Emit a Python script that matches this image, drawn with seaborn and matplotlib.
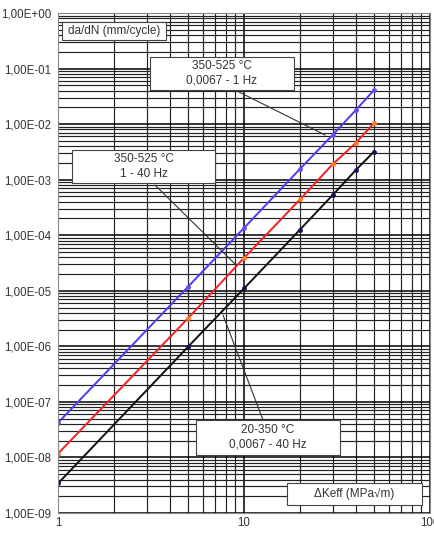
import matplotlib
matplotlib.use("Agg")
import matplotlib.pyplot as plt
import seaborn as sns
import pandas as pd
import numpy as np
from matplotlib.patches import Rectangle
from matplotlib.ticker import LogLocator, FixedLocator, NullFormatter

# Data
dk = [1, 5, 10, 20, 30, 40, 50]
blue_vals = [4.2e-8, 1.18e-5, 1.35e-4, 1.56e-3, 6.4e-3, 1.8e-2, 4.1e-2]     # 350-525 °C, 0,0067 - 1 Hz
red_vals = [1.17e-8, 3.2e-6, 3.9e-5, 4.4e-4, 1.9e-3, 4.6e-3, 1.05e-2]       # 350-525 °C, 1 - 40 Hz
black_vals = [3.4e-9, 9.8e-7, 1.1e-5, 1.26e-4, 5.3e-4, 1.5e-3, 3.2e-3]      # 20-350 °C, 0,0067 - 40 Hz
series_names = ["350-525 °C / 0,0067 - 1 Hz", "350-525 °C / 1 - 40 Hz", "20-350 °C / 0,0067 - 40 Hz"]
y_tick_vals = [1e0, 1e-1, 1e-2, 1e-3, 1e-4, 1e-5, 1e-6, 1e-7, 1e-8, 1e-9]
y_tick_labels = ["1,00E+00", "1,00E-01", "1,00E-02", "1,00E-03", "1,00E-04",
                 "1,00E-05", "1,00E-06", "1,00E-07", "1,00E-08", "1,00E-09"]
x_tick_vals = [1, 10, 100]
x_tick_labels = ["1", "10", "100"]

df = pd.DataFrame({
    "dK": dk * 3,
    "dadN": blue_vals + red_vals + black_vals,
    "series": [series_names[0]] * len(dk) + [series_names[1]] * len(dk) + [series_names[2]] * len(dk),
})

sns.set_style("white")
plt.rcParams['font.family'] = ['Liberation Sans', 'DejaVu Sans']

fig = plt.figure(figsize=(4.34, 5.36), dpi=100)
ax = fig.add_axes([58 / 434, (536 - 513) / 536, 372 / 434, 500 / 536])

ax.set_xscale("log")
ax.set_yscale("log")
ax.set_xlim(1, 100)
ax.set_ylim(1e-9, 1)

# grid
ax.xaxis.set_minor_locator(LogLocator(base=10, subs=np.arange(2, 10)))
ax.yaxis.set_minor_locator(LogLocator(base=10, subs=np.arange(2, 10), numticks=20))
ax.xaxis.set_minor_formatter(NullFormatter())
ax.yaxis.set_minor_formatter(NullFormatter())
ax.grid(True, which="major", color="black", lw=1.1)
ax.grid(True, which="minor", color="#222222", lw=0.85)
ax.set_axisbelow(True)

palette = {series_names[0]: "#4a3cf0", series_names[1]: "#f42020", series_names[2]: "#111111"}
sns.lineplot(data=df, x="dK", y="dadN", hue="series", palette=palette, ax=ax,
             lw=1.4, legend=False, marker="o", markersize=3.5, markeredgewidth=0)
mcols = ["#6a4cf0", "#ff8020", "#10105a"]
for line, mc in zip(ax.get_lines(), mcols):
    line.set_markerfacecolor(mc)
    line.set_markeredgecolor(mc)

ax.yaxis.set_major_locator(FixedLocator(y_tick_vals))
ax.set_yticklabels(y_tick_labels)
ax.xaxis.set_major_locator(FixedLocator(x_tick_vals))
ax.set_xticklabels(x_tick_labels)
ax.tick_params(axis="both", which="both", length=0, labelsize=8.3, labelcolor="#333333", pad=3)
ax.tick_params(axis="y", which="major", length=3, color="#555555", direction="out", pad=2)
ax.set_xlabel("")
ax.set_ylabel("")
for s in ax.spines.values():
    s.set_color("#888888")
    s.set_linewidth(0.8)

def box(x0, y0, x1, y1, text):
    # pixel coordinates of the reference -> axes fraction
    fx0, fx1 = (x0 - 58) / 372, (x1 - 58) / 372
    fy0, fy1 = (513 - y1) / 500, (513 - y0) / 500
    ax.add_patch(Rectangle((fx0, fy0), fx1 - fx0, fy1 - fy0, transform=ax.transAxes,
                           facecolor="white", edgecolor="#444444", lw=0.8, zorder=5))
    ax.text((fx0 + fx1) / 2, (fy0 + fy1) / 2, text, transform=ax.transAxes,
            ha="center", va="center", fontsize=8.5, color="#333333", zorder=6, linespacing=1.3)

def leader(xa, ya, xb, yb):
    ax.plot([(xa - 58) / 372, (xb - 58) / 372], [(513 - ya) / 500, (513 - yb) / 500],
            transform=ax.transAxes, color="#333333", lw=0.8, zorder=4)

leader(235, 90, 325, 135)
leader(155, 185, 236, 265)
leader(263, 420, 223, 315)

box(62, 22, 166, 40, "da/dN (mm/cycle)")
box(150, 57, 294, 90, "350-525 °C\n0,0067 - 1 Hz")
box(72, 150, 215, 183, "350-525 °C\n1 - 40 Hz")
box(196, 420, 340, 455, "20-350 °C\n0,0067 - 40 Hz")
box(287, 483, 422, 505, "ΔKeff (MPa√m)")

fig.savefig("out.png", dpi=100)
